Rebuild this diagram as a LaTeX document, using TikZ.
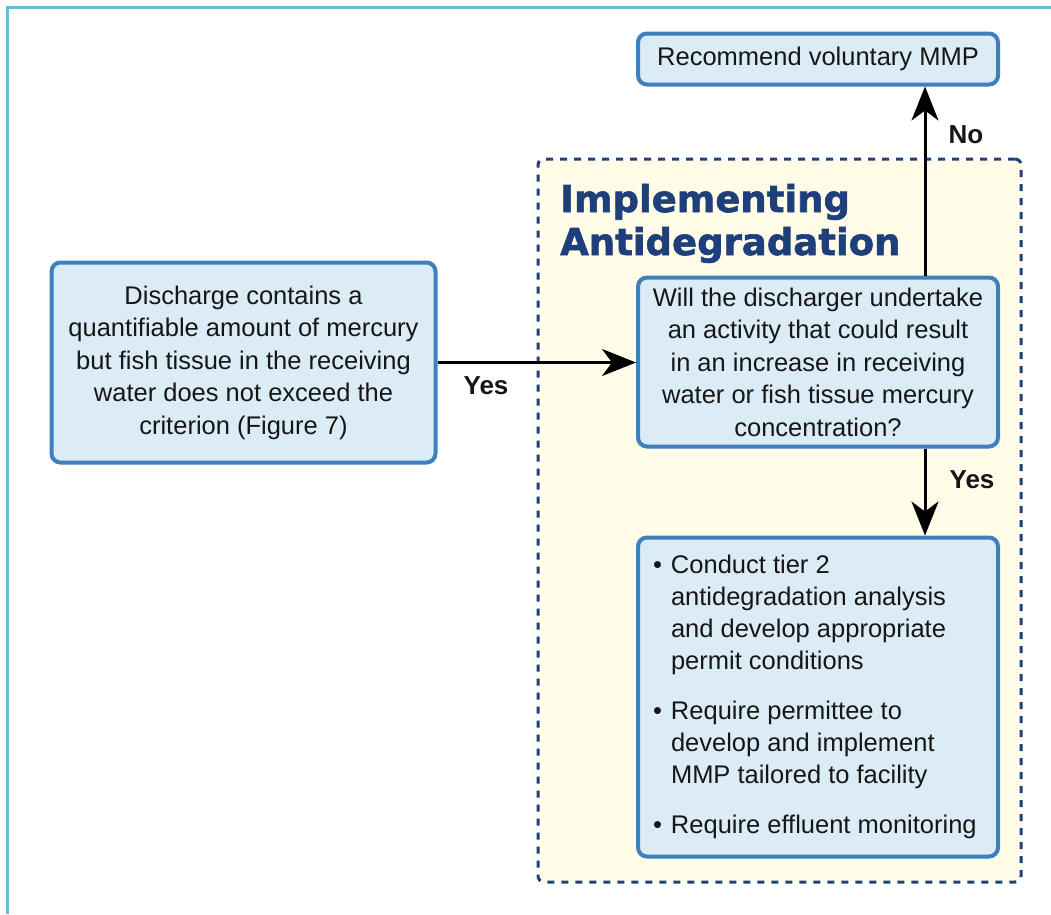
\documentclass[tikz,border=0pt]{standalone}
\usepackage{fontspec}
\setmainfont{Liberation Sans}
\newfontfamily\titlefont{DejaVu Sans}[FakeBold=1.6]
\usetikzlibrary{arrows.meta}
\definecolor{framecol}{HTML}{6CBCD4}
\definecolor{boxfill}{HTML}{DCECF6}
\definecolor{boxline}{HTML}{3E80BC}
\definecolor{zonefill}{HTML}{FFFDE8}
\definecolor{zoneline}{HTML}{1F3F7A}
\definecolor{titlecol}{HTML}{1E3F7C}
\definecolor{txt}{HTML}{161616}
\begin{document}
\begin{tikzpicture}[x=1pt,y=-1pt,
  box/.style={draw=boxline, fill=boxfill, line width=4pt, rounded corners=9pt, text=txt,
    font=\fontsize{25.5}{32.5}\selectfont, align=center, inner sep=0pt},
  zonebox/.style={draw=zoneline, fill=zonefill, line width=3pt, dash pattern=on 7pt off 7pt,
    rounded corners=6pt, inner sep=0pt},
  arr/.style={line width=3pt, -{Stealth[length=34pt,width=27pt,inset=10pt]}},
  lab/.style={font=\bfseries\fontsize{26}{30}\selectfont, text=txt, inner sep=0pt},
  titletext/.style={font=\titlefont\bfseries\fontsize{37}{43}\selectfont, text=titlecol, inner sep=0pt, anchor=base west}]
\useasboundingbox (0,0) rectangle (1051,914);
\fill[white] (0,0) rectangle (1051,914);
\draw[framecol, line width=3pt] (7,914) -- (7,7) -- (1051,7);

\node[zonebox, minimum width=483pt, minimum height=723pt] (zone) at (779.5,520.5) {};
\node[titletext] (t1) at (560,212) {Implementing};
\node[titletext] (t2) at (560,255) {Antidegradation};

\node[box, minimum width=360pt, minimum height=51pt] (rec) at (818,59) {Recommend voluntary MMP};
\node[box, minimum width=384pt, minimum height=200pt] (dis) at (243.5,362.5)
  {Discharge contains a\\quantifiable amount of mercury\\but fish tissue in the receiving\\water does not exceed the\\criterion (Figure 7)};
\node[box, minimum width=360pt, minimum height=169pt] (q) at (818,362)
  {Will the discharger undertake\\an activity that could result\\in an increase in receiving\\water or fish tissue mercury\\concentration?};
\node[box, minimum width=360pt, minimum height=319pt, align=left, font=\fontsize{25.5}{32}\selectfont] (act) at (818,697)
  {\begin{tabular}{@{}p{18pt}@{}p{312pt}@{}}
   \textbullet & Conduct tier 2\\
   & antidegradation analysis\\
   & and develop appropriate\\
   & permit conditions\\[18pt]
   \textbullet & Require permittee to\\
   & develop and implement\\
   & MMP tailored to facility\\[18pt]
   \textbullet & Require effluent monitoring
   \end{tabular}};

\coordinate (ax) at (925,0);
\draw[arr] (dis.east) -- (dis.east -| q.west);
\draw[arr] (q.north -| ax) -- (rec.south -| ax);
\draw[arr] (q.south -| ax) -- (act.north -| ax);

\node[lab] (yes1) at (486,386) {Yes};
\node[lab] (no) at (966,135) {No};
\node[lab] (yes2) at (972,480) {Yes};
\end{tikzpicture}
\end{document}
